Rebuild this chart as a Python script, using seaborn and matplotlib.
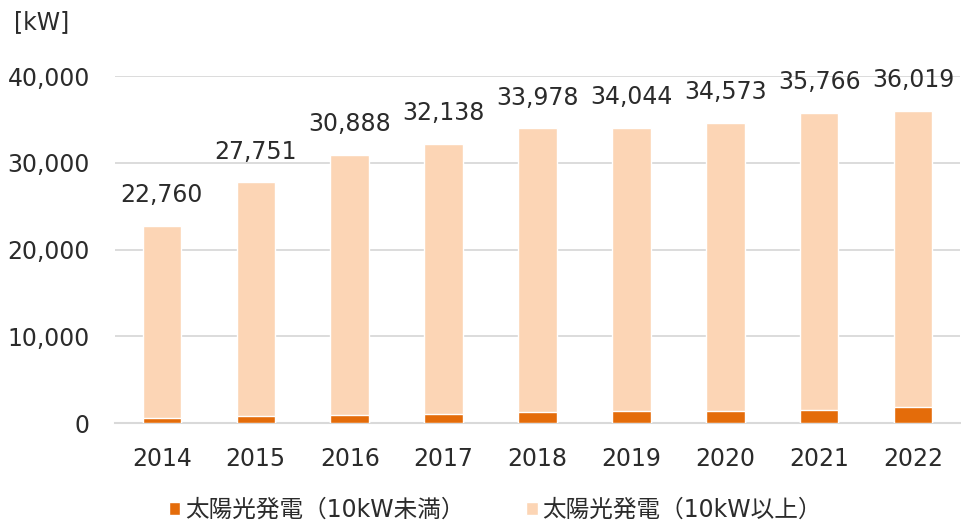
import matplotlib
matplotlib.use("Agg")
import matplotlib.pyplot as plt
import matplotlib.ticker as mticker
import pandas as pd
import seaborn as sns

# data (kW)
years = ["2014", "2015", "2016", "2017", "2018", "2019", "2020", "2021", "2022"]
totals = [22760, 27751, 30888, 32138, 33978, 34044, 34573, 35766, 36019]
under_10kw = [620, 770, 920, 1080, 1230, 1380, 1380, 1540, 1850]

label_small = "太陽光発電（10kW未満）"
label_large = "太陽光発電（10kW以上）"
dark_orange = "#E46C0A"
light_orange = "#FCD5B5"
text_color = "#2B2B2B"

df = pd.DataFrame({"year": years, "total": totals, "small": under_10kw})

sns.set_style("white")
plt.rcParams["font.family"] = ["DejaVu Sans", "Noto Sans CJK JP"]

fig = plt.figure(figsize=(9.62, 5.25), dpi=100)
ax = fig.add_axes([0.1195, 0.194, 0.8785, 0.661])

# stacked bars: full total in light colour, the under-10kW part drawn over it
sns.barplot(data=df, x="year", y="total", color=light_orange, width=0.41,
            saturation=1, ax=ax, label=label_large, zorder=3)
sns.barplot(data=df, x="year", y="small", color=dark_orange, width=0.41,
            saturation=1, ax=ax, label=label_small, zorder=4)

for i, t in enumerate(totals):
    ax.text(i, t + 2750, f"{t:,}", ha="center", va="baseline", fontsize=17,
            color=text_color, clip_on=False)

ax.set_ylim(0, 40000)
ax.set_xlim(-0.5, len(years) - 0.5)
ax.yaxis.set_major_locator(mticker.MultipleLocator(10000))
ax.yaxis.set_major_formatter(mticker.StrMethodFormatter("{x:,.0f}"))
ax.grid(axis="y", color="#D9D9D9", linewidth=1.3, zorder=0)
ax.set_axisbelow(True)
for s in ["top", "right", "left"]:
    ax.spines[s].set_visible(False)
ax.spines["bottom"].set_color("#D9D9D9")
ax.spines["bottom"].set_linewidth(1.5)
ax.tick_params(axis="y", length=0, pad=18, labelsize=17, labelcolor=text_color)
ax.tick_params(axis="x", length=0, pad=17, labelsize=17, labelcolor=text_color)
ax.set_xlabel("")
ax.set_ylabel("")

fig.text(0.015, 0.957, "[kW]", fontsize=17, color=text_color, va="center")

handles, labels = ax.get_legend_handles_labels()
order = [labels.index(label_small), labels.index(label_large)]
ax.legend([handles[k] for k in order], [labels[k] for k in order],
          loc="center", bbox_to_anchor=(0.45, -0.25), ncol=2, frameon=False,
          fontsize=17, handlelength=0.5, handleheight=0.5, handletextpad=0.2,
          columnspacing=2.6, labelcolor=text_color)

fig.savefig("out.png", dpi=100)
